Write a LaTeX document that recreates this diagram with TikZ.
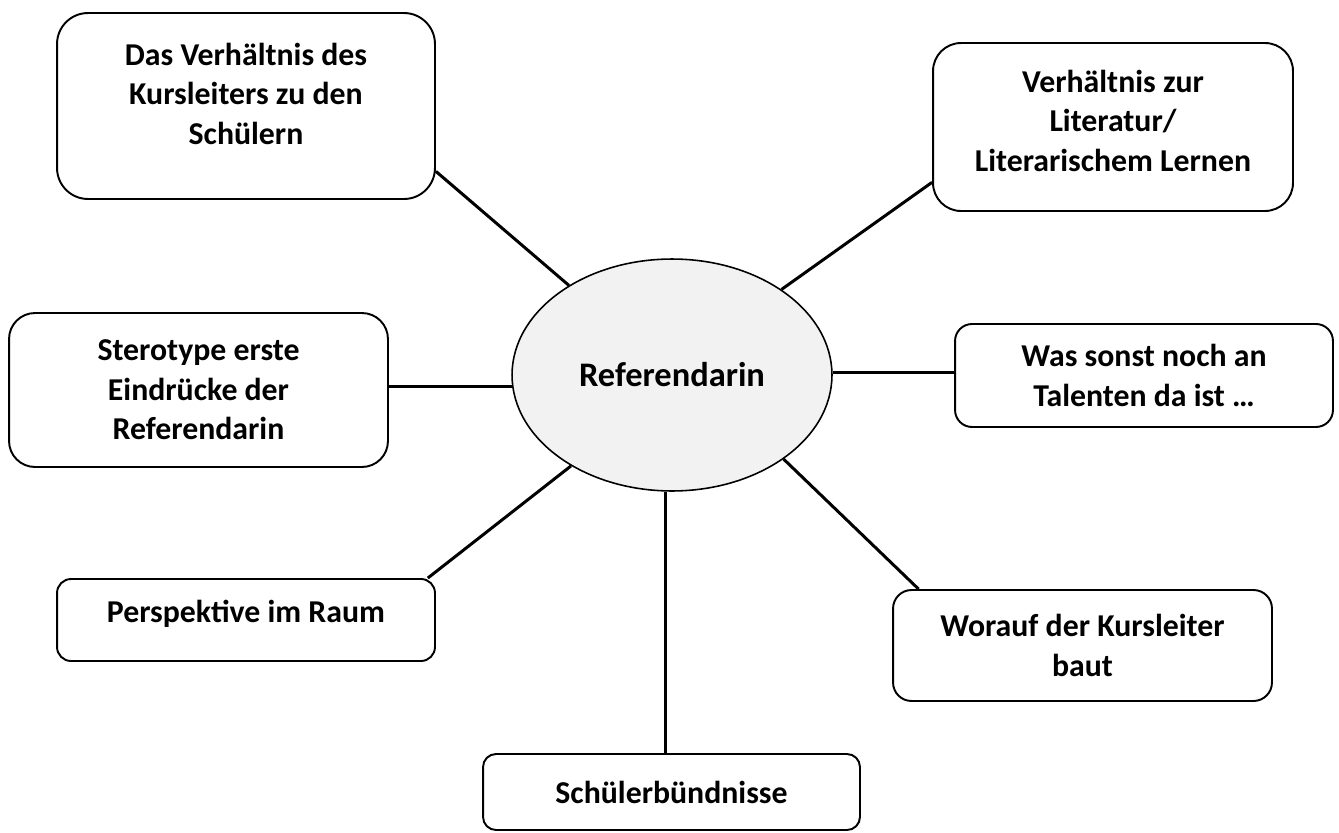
\documentclass[tikz,border=0pt]{standalone}
\usepackage{fontspec}
\setmainfont{Carlito}
\usetikzlibrary{shapes.geometric}

\begin{document}
\begin{tikzpicture}[x=0.02cm, y=-0.02cm,
        topic/.style={draw, line width=1.1pt, align=center, inner sep=0pt,
            font=\bfseries\fontsize{18.1}{22.5}\selectfont},
        link/.style={line width=1.7pt}]
        \useasboundingbox (0,0) rectangle (1339,832);
        % centre
        \node[ellipse, draw, line width=0.9pt, fill=black!5, minimum width=6.4cm, minimum height=4.64cm,
            font=\bfseries\fontsize{19.6}{24}\selectfont] (ell) at (672,375) {Referendarin};
        % topics round it
        \node[topic, rounded corners=0.62cm, minimum width=7.56cm, minimum height=3.72cm, text depth=0.5cm]
            (kl) at (246,106) {Das Verhältnis des\\Kursleiters zu den\\Schülern};
        \node[topic, rounded corners=0.56cm, minimum width=7.2cm, minimum height=3.36cm, text depth=0.25cm]
            (lit) at (1113,127) {Verhältnis zur\\Literatur/\\Literarischem Lernen};
        \node[topic, rounded corners=0.52cm, minimum width=7.58cm, minimum height=3.08cm]
            (stereo) at (198.5,390) {Sterotype erste\\Eindrücke der\\Referendarin};
        \node[topic, rounded corners=0.34cm, minimum width=7.56cm, minimum height=2.06cm, text depth=0cm]
            (talent) at (1144,375.5) {Was sonst noch an\\Talenten da ist …};
        \node[topic, rounded corners=0.28cm, minimum width=7.56cm, minimum height=1.64cm, text depth=0.35cm]
            (persp) at (246,620) {Perspektive im Raum};
        \node[topic, rounded corners=0.37cm, minimum width=7.58cm, minimum height=2.22cm]
            (worauf) at (1082.5,645.5) {Worauf der Kursleiter\\baut};
        \node[topic, rounded corners=0.26cm, minimum width=7.54cm, minimum height=1.52cm]
            (schueler) at (671.5,792) {Schülerbündnisse};

        \draw[link] (ell.139) -- (kl.-19.5);
        \draw[link] (ell.38.4) -- (lit.197.9);
        \draw[link] (ell.184) -- (ell.184 -| stereo.east);
        \draw[link] (ell.1) -- (ell.1 -| talent.west);
        \draw[link] (ell.222.6) -- (persp.13.3);
        \draw[link] (ell.267.5) -- (ell.267.5 |- schueler.north);
        \draw[link] (ell.323.7) -- (worauf.161.4);
    \end{tikzpicture}
\end{document}
